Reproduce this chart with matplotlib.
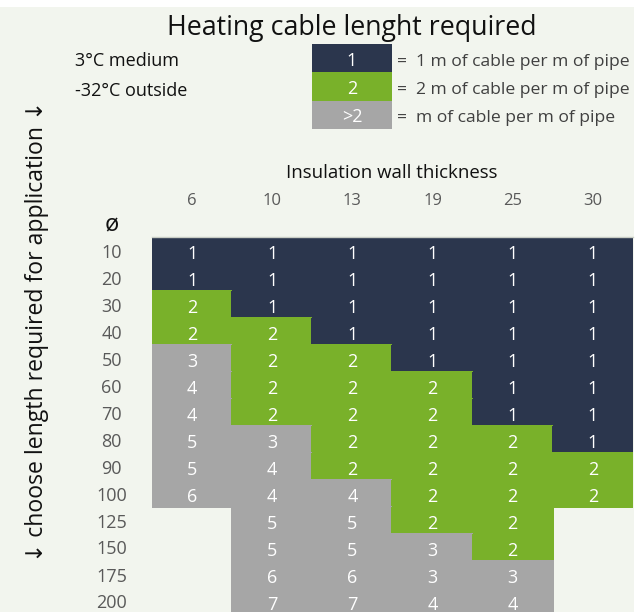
import matplotlib
matplotlib.use('Agg')
import matplotlib.pyplot as plt
from matplotlib.colors import ListedColormap
from matplotlib.patches import Rectangle
import numpy as np

plt.rcParams['font.family'] = ['Open Sans', 'DejaVu Sans']

thickness = ['6', '10', '13', '19', '25', '30']
diameters = ['10', '20', '30', '40', '50', '60', '70', '80', '90', '100',
             '125', '150', '175', '200']
# m of cable per m of pipe, 0 = no value in the table
lengths = [
    [1, 1, 1, 1, 1, 1],
    [1, 1, 1, 1, 1, 1],
    [2, 1, 1, 1, 1, 1],
    [2, 2, 1, 1, 1, 1],
    [3, 2, 2, 1, 1, 1],
    [4, 2, 2, 2, 1, 1],
    [4, 2, 2, 2, 1, 1],
    [5, 3, 2, 2, 2, 1],
    [5, 4, 2, 2, 2, 2],
    [6, 4, 4, 2, 2, 2],
    [0, 5, 5, 2, 2, 0],
    [0, 5, 5, 3, 2, 0],
    [0, 6, 6, 3, 3, 0],
    [0, 7, 7, 4, 4, 0],
]
legend_keys = ['1', '2', '>2']
legend_texts = ['=  1 m of cable per m of pipe',
                '=  2 m of cable per m of pipe',
                '=  m of cable per m of pipe']
colors = ['#2b364d', '#79b12a', '#a6a6a6']
bg = '#f2f5ee'

W, H = 639, 612
fig = plt.figure(figsize=(W / 100, H / 100), dpi=100)
fig.patch.set_facecolor('white')
fig.add_artist(Rectangle((0, 0), 634 / W, 605 / H, transform=fig.transFigure,
                         facecolor=bg, edgecolor='none', zorder=-10))

vals = np.array(lengths, dtype=float)
cat = np.where(vals == 0, np.nan, np.clip(vals, 1, 3) - 1)
cat = np.ma.masked_invalid(cat)

# table
ax = fig.add_axes([152 / W, 1 - 615 / H, 481 / W, 378 / H])
ax.set_facecolor('none')
ax.pcolormesh(np.arange(len(thickness) + 1) - 0.5, np.arange(len(diameters) + 1) - 0.5,
              cat, cmap=ListedColormap(colors), vmin=-0.5, vmax=2.5,
              edgecolors='face', linewidth=0.3)
ax.set_xlim(-0.5, len(thickness) - 0.5)
ax.set_ylim(len(diameters) - 0.5, -0.5)
for i in range(len(diameters)):
    for j in range(len(thickness)):
        if vals[i, j] > 0:
            ax.text(j, i + 0.3, str(int(vals[i, j])), ha='center', va='baseline',
                    color='white', fontsize=13)

ax.xaxis.tick_top()
ax.set_xticks(range(len(thickness)), thickness)
ax.set_yticks(range(len(diameters)), diameters)
ax.tick_params(axis='x', length=0, pad=20, labelsize=12, labelcolor='#595959')
ax.tick_params(axis='y', length=0, pad=29, labelsize=13, labelcolor='#595959')
for lab in ax.get_yticklabels():
    lab.set_ha('center')
for side in ['left', 'right', 'bottom']:
    ax.spines[side].set_visible(False)
ax.spines['top'].set_color('#c9cdc5')
ax.spines['top'].set_linewidth(1)

# legend boxes
axl = fig.add_axes([312 / W, 1 - 129 / H, 80 / W, 85 / H])
axl.barh(range(len(legend_keys)), 1, height=1, left=0, color=colors)
axl.set_xlim(0, 1)
axl.set_ylim(len(legend_keys) - 0.5, -0.5)
axl.axis('off')
for i, (k, t) in enumerate(zip(legend_keys, legend_texts)):
    axl.text(0.5, i + 0.27, k, ha='center', va='baseline', color='white', fontsize=13)
    axl.text(1.06, i + 0.27, t, ha='left', va='baseline', color='#404040', fontsize=12.6,
             clip_on=False)

# texts
fig.text(352 / W, 1 - 35 / H, 'Heating cable lenght required', ha='center', va='baseline',
         fontsize=19.3, color='#111111')
fig.text(75 / W, 1 - 66.5 / H, '3°C medium', ha='left', va='baseline', fontsize=13,
         color='#111111')
fig.text(75 / W, 1 - 95.5 / H, '-32°C outside', ha='left', va='baseline', fontsize=13,
         color='#111111')
fig.text(392 / W, 1 - 177.7 / H, 'Insulation wall thickness', ha='center', va='baseline',
         fontsize=13.4, color='#111111')
fig.text(112 / W, 1 - 231 / H, 'ø', ha='center', va='baseline', fontsize=17,
         color='#111111')
fig.text(37 / W, 1 - 331 / H, '↓ choose length required for application ↓', rotation=90,
         ha='center', va='center', fontsize=16.6, color='#111111')

fig.savefig('out.png', dpi=100, facecolor='white')
